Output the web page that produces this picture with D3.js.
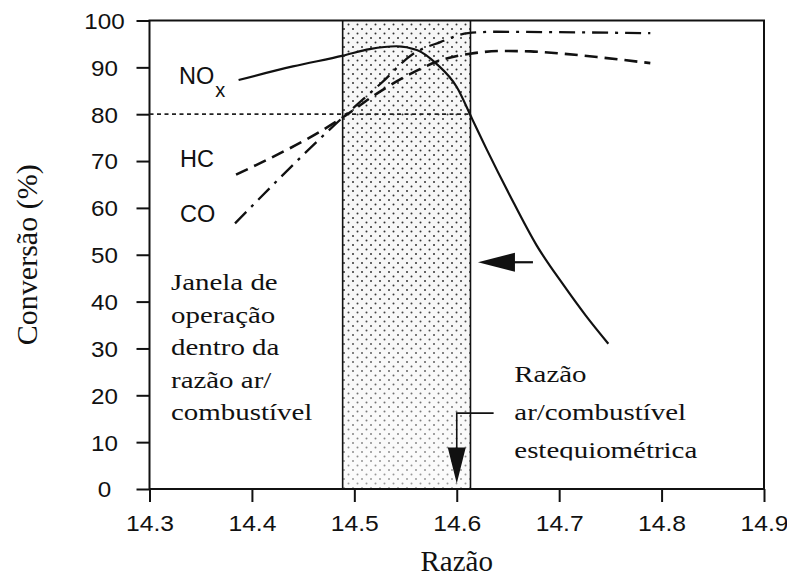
<!DOCTYPE html>
<html>
<head>
<meta charset="utf-8">
<script src="https://cdn.jsdelivr.net/npm/d3@7"></script>
<style>
  body { margin: 0; background: #fff; }
  svg { display: block; }
</style>
</head>
<body>
<svg id="chart" width="787" height="576"></svg>
<script>
// Air/fuel ratio axis and conversion axis
const xTicks = [14.3, 14.4, 14.5, 14.6, 14.7, 14.8, 14.9];
const yTicks = [0, 10, 20, 30, 40, 50, 60, 70, 80, 90, 100];

// NOx conversion (%)
const noxRatio = [14.387, 14.44, 14.489, 14.515, 14.541, 14.561, 14.580, 14.600, 14.615, 14.629, 14.652, 14.678, 14.704, 14.726, 14.748];
const noxConv  = [87.3, 90.2, 92.5, 93.9, 94.5, 93.7, 90.8, 85.8, 79.0, 72.6, 62.6, 52.0, 43.6, 37.0, 31.0];

// HC conversion (%)
const hcRatio = [14.3845, 14.4886, 14.522, 14.561, 14.584, 14.613, 14.645, 14.672, 14.704, 14.737, 14.789];
const hcConv  = [67.1, 79.3, 84.4, 89.3, 91.5, 92.9, 93.5, 93.4, 92.9, 92.2, 90.9];

// CO conversion (%)
const coRatio = [14.3835, 14.4886, 14.5256, 14.5576, 14.584, 14.611, 14.639, 14.70, 14.789];
const coConv  = [56.7, 79.3, 86.5, 92.9, 95.4, 97.3, 97.6, 97.5, 97.3];

// Operating window, stoichiometric ratio and 80 % reference level
const windowRange = [14.4886, 14.6134];
const stoichRatio = 14.6;
const refLevel = 80;

const curveLabels = ["HC", "CO"];

const svg = d3.select("#chart");
const x = d3.scaleLinear().domain([14.3, 14.9]).range([149.5, 764]);
const y = d3.scaleLinear().domain([0, 100]).range([489, 20.5]);

// Stretch a text element horizontally by factor k
function stretch(sel, k) {
  sel.each(function () {
    const w = this.getComputedTextLength();
    this.setAttribute("textLength", (w * k).toFixed(1));
    this.setAttribute("lengthAdjust", "spacingAndGlyphs");
  });
}

const defs = svg.append("defs");
const pat = defs.append("pattern")
  .attr("id", "stipple").attr("width", 9).attr("height", 9)
  .attr("patternUnits", "userSpaceOnUse");
pat.append("rect").attr("width", 9).attr("height", 9).attr("fill", "#f7f7f7");
pat.append("circle").attr("cx", 2).attr("cy", 2).attr("r", 1.0).attr("fill", "#333");
pat.append("circle").attr("cx", 6.5).attr("cy", 6.5).attr("r", 1.0).attr("fill", "#333");

const grad = defs.append("linearGradient").attr("id", "fade")
  .attr("x1", 0).attr("y1", 0).attr("x2", 0).attr("y2", 1);
grad.append("stop").attr("offset", "0").attr("stop-color", "#fff");
grad.append("stop").attr("offset", "0.55").attr("stop-color", "#fff");
grad.append("stop").attr("offset", "1").attr("stop-color", "#777");
defs.append("mask").attr("id", "fadeMask")
  .append("rect")
  .attr("x", x(windowRange[0])).attr("y", y(100))
  .attr("width", x(windowRange[1]) - x(windowRange[0]))
  .attr("height", y(0) - y(100))
  .attr("fill", "url(#fade)");

defs.append("clipPath").attr("id", "lastLine")
  .append("rect").attr("x", 0).attr("y", 0).attr("width", 787).attr("height", 460.5);

// Shaded operating window
svg.append("rect")
  .attr("x", x(windowRange[0])).attr("y", y(100))
  .attr("width", x(windowRange[1]) - x(windowRange[0]))
  .attr("height", y(0) - y(100))
  .attr("fill", "url(#stipple)")
  .attr("mask", "url(#fadeMask)");

// Window borders
windowRange.forEach(v => {
  svg.append("line")
    .attr("x1", x(v)).attr("x2", x(v))
    .attr("y1", y(100)).attr("y2", y(0))
    .attr("stroke", "#111").attr("stroke-width", 1.6);
});

// Axes
const fontSans = "'Liberation Sans', Arial, sans-serif";
const fontSerif = "'Liberation Serif', 'Times New Roman', serif";

const gx = svg.append("g").attr("transform", `translate(0,${y(0)})`)
  .call(d3.axisBottom(x).tickValues(xTicks).tickFormat(d3.format(".1f")).tickSize(13).tickSizeOuter(0));
const gy = svg.append("g").attr("transform", `translate(${x(14.3)},0)`)
  .call(d3.axisLeft(y).tickValues(yTicks).tickFormat(d3.format("d")).tickSize(13).tickSizeOuter(0));

[gx, gy].forEach(g => {
  g.select(".domain").remove();
  g.selectAll(".tick line").attr("stroke", "#111").attr("stroke-width", 2);
  g.selectAll(".tick text")
    .attr("fill", "#111")
    .style("font-family", fontSans)
    .style("font-size", "22px");
});
gx.selectAll(".tick text").attr("y", 42).attr("dy", 0);
gy.selectAll(".tick text").attr("x", -45).attr("dy", "0.36em").attr("text-anchor", "middle");
stretch(gx.selectAll(".tick text"), 1.12);
stretch(gy.selectAll(".tick text"), 1.1);

// Frame
svg.append("rect")
  .attr("x", x(14.3)).attr("y", y(100))
  .attr("width", x(14.9) - x(14.3)).attr("height", y(0) - y(100))
  .attr("fill", "none").attr("stroke", "#111").attr("stroke-width", 2);

// 80 % reference line
svg.append("line")
  .attr("x1", x(14.3)).attr("x2", x(windowRange[1]))
  .attr("y1", y(refLevel)).attr("y2", y(refLevel))
  .attr("stroke", "#222").attr("stroke-width", 1.8)
  .attr("stroke-dasharray", "4,3.5");

// Conversion curves
const line = d3.line().x(d => x(d[0])).y(d => y(d[1])).curve(d3.curveMonotoneX);
const series = [
  { r: noxRatio, c: noxConv, dash: null, w: 2.2 },
  { r: hcRatio, c: hcConv, dash: "13,7", w: 2.6 },
  { r: coRatio, c: coConv, dash: "16,7,3,7", w: 2.3 }
];
series.forEach(s => {
  svg.append("path")
    .datum(s.r.map((v, i) => [v, s.c[i]]))
    .attr("d", line)
    .attr("fill", "none")
    .attr("stroke", "#111")
    .attr("stroke-width", s.w)
    .attr("stroke-dasharray", s.dash);
});

// Curve labels
const nox = svg.append("text")
  .attr("x", 179).attr("y", 83.5)
  .style("font-family", fontSans).style("font-size", "23.5px").attr("fill", "#111");
nox.append("tspan").text("NO");
nox.append("tspan").attr("dy", 13).attr("dx", 1).style("font-size", "20px").text("x");

svg.selectAll(".curveLabel").data(curveLabels).enter().append("text")
  .attr("class", "curveLabel")
  .attr("x", 180)
  .attr("y", (d, i) => [166.7, 221.7][i])
  .style("font-family", fontSans).style("font-size", "23.5px").attr("fill", "#111")
  .text(d => d);

// Left annotation: operating window
const leftLines = ["Janela de", "operação", "dentro da", "razão ar/", "combustível"];
const leftText = svg.selectAll(".leftNote").data(leftLines).enter().append("text")
  .attr("class", "leftNote")
  .attr("x", 171)
  .attr("y", (d, i) => 290 + i * 32.6)
  .style("font-family", fontSerif).style("font-size", "23.5px").attr("fill", "#111")
  .text(d => d);
stretch(leftText, 1.23);

// Right annotation: stoichiometric ratio
const rightLines = ["Razão", "ar/combustível", "estequiométrica"];
const rightText = svg.selectAll(".rightNote").data(rightLines).enter().append("text")
  .attr("class", "rightNote")
  .attr("x", 514.3)
  .attr("y", (d, i) => 381.7 + i * 38.3)
  .attr("clip-path", (d, i) => i === 2 ? "url(#lastLine)" : null)
  .style("font-family", fontSerif).style("font-size", "23.5px").attr("fill", "#111")
  .text(d => d);
stretch(rightText, 1.23);

// Horizontal arrow pointing at the window edge
const hy = y(48.4), hTip = x(14.6207), hTail = x(14.6744);
svg.append("line")
  .attr("x1", hTip + 30).attr("x2", hTail).attr("y1", hy).attr("y2", hy)
  .attr("stroke", "#111").attr("stroke-width", 2.2);
svg.append("path")
  .attr("d", `M${hTip},${hy} L${hTip + 37},${hy - 9.5} L${hTip + 37},${hy + 9.5} Z`)
  .attr("fill", "#111");

// Down arrow marking the stoichiometric ratio
const sx = x(stoichRatio), lead = y(16.2), tip = y(1.2);
svg.append("path")
  .attr("d", `M${x(14.636)},${lead} L${sx},${lead} L${sx},${tip - 30}`)
  .attr("fill", "none").attr("stroke", "#111").attr("stroke-width", 1.6);
svg.append("path")
  .attr("d", `M${sx},${tip} L${sx - 9},${tip - 36} L${sx + 9},${tip - 36} Z`)
  .attr("fill", "#111");

// Axis titles
svg.append("text")
  .attr("x", x(14.6)).attr("y", 571)
  .attr("text-anchor", "middle")
  .style("font-family", fontSerif).style("font-size", "29px").attr("fill", "#111")
  .text("Razão");

svg.append("text")
  .attr("transform", `translate(37,${(y(0) + y(100)) / 2}) rotate(-90)`)
  .attr("text-anchor", "middle")
  .style("font-family", fontSerif).style("font-size", "30px").attr("fill", "#111")
  .text("Conversão (%)");
</script>
</body>
</html>
